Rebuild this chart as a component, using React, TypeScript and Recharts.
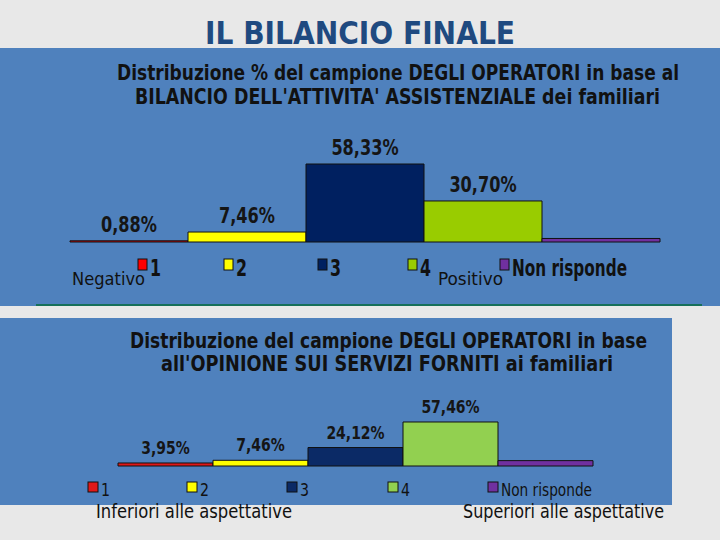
import React from 'react';
import { BarChart, Bar, XAxis, YAxis, Legend, LabelList } from 'recharts';

const categories = ['1', '2', '3', '4', 'Non risponde'];
const bilancioValues = [0.88, 7.46, 58.33, 30.7, 2.63];
const opinioneValues = [3.95, 7.46, 24.12, 57.46, 7.01];
const labeledCategories = ['1', '2', '3', '4'];
const bilancioColors = ['#ff0000', '#ffff00', '#002060', '#99cc00', '#7030a0'];
const opinioneColors = ['#e01818', '#ffff00', '#0b2a66', '#92d050', '#7030a0'];

const toRows = (vals: number[]) => {
  const r: Record<string, any> = { name: 'campione' };
  categories.forEach((c, i) => {
    r['s' + i] = vals[i];
  });
  return [r];
};

const bilancioData = toRows(bilancioValues);
const opinioneData = toRows(opinioneValues);

const FONT = "'DejaVu Sans Condensed', 'DejaVu Sans', sans-serif";
const BLUE = '#4f81bd';

const fmt = (v: number) => v.toFixed(2).replace('.', ',') + '%';

const makeLabel = (fontSize: number, gap: number, perChar: number) => (props: any) => {
  const { x, y, width, value } = props;
  const s = fmt(Number(value));
  return (
    <text
      x={Number(x) + Number(width) / 2}
      y={Number(y) - gap}
      textAnchor="middle"
      fontFamily={FONT}
      fontWeight="bold"
      fontSize={fontSize}
      fill="#151515"
      textLength={s.length * perChar}
      lengthAdjust="spacingAndGlyphs"
    >
      {s}
    </text>
  );
};

const makeLegend =
  (markerX: number[], mw: number, mh: number, my: number, ty: number, fs: number, bold: boolean, nrLen: number, digitLen: number) =>
  (props: any) => {
    const payload = props.payload || [];
    return (
      <svg width={720} height={40} style={{ display: 'block', overflow: 'visible' }}>
        {payload.map((p: any, i: number) => (
          <g key={i}>
            <rect x={markerX[i]} y={my} width={mw} height={mh} fill={p.color} stroke="#111" strokeWidth={1} />
            <text
              x={markerX[i] + mw + 3}
              y={ty}
              fontFamily={FONT}
              fontWeight={bold ? 'bold' : 'normal'}
              fontSize={fs}
              fill="#111"
              textLength={String(p.value).length > 3 ? nrLen : digitLen}
              lengthAdjust="spacingAndGlyphs"
            >
              {p.value}
            </text>
          </g>
        ))}
      </svg>
    );
  };

const topLegend = makeLegend([138, 224, 318, 408, 500], 9, 11, 9, 26, 23, true, 115, 11);
const bottomLegend = makeLegend([88, 187, 287, 388, 488], 10, 10, 7, 21, 18, false, 91, 9);

const T = (p: {
  x: number;
  y: number;
  len?: number;
  size: number;
  sy?: number;
  bold?: boolean;
  color?: string;
  anchor?: string;
  children: string;
}) => (
  <text
    transform={`translate(${p.x},${p.y}) scale(1,${p.sy || 1})`}
    x={0}
    y={0}
    fontFamily={FONT}
    fontWeight={p.bold ? 'bold' : 'normal'}
    fontSize={p.size}
    fill={p.color || '#111'}
    textAnchor={(p.anchor as any) || 'start'}
    {...(p.len ? { textLength: p.len, lengthAdjust: 'spacingAndGlyphs' } : {})}
  >
    {p.children}
  </text>
);

export default function App() {
  return (
    <div style={{ position: 'absolute', left: 0, top: 0, width: 720, height: 540, background: '#e8e8e8', overflow: 'hidden' }}>
      <div style={{ position: 'absolute', left: 0, top: 48, width: 720, height: 258, background: BLUE }} />
      <div style={{ position: 'absolute', left: 36, top: 304, width: 666, height: 2, background: '#16705a' }} />
      <div style={{ position: 'absolute', left: 0, top: 318, width: 672, height: 187, background: BLUE }} />

      <div style={{ position: 'absolute', left: 0, top: 0 }}>
        <BarChart
          width={720}
          height={300}
          data={bilancioData}
          margin={{ top: 108.3, right: 59, bottom: 58, left: 70 }}
          barCategoryGap={0}
          barGap={0}
        >
          <XAxis dataKey="name" hide />
          <YAxis hide domain={[0, 100]} />
          <Legend
            layout="horizontal"
            verticalAlign="middle"
            content={topLegend}
            wrapperStyle={{ left: 0, top: 250, width: 720, height: 40, bottom: 'auto' }}
          />
          {categories.map((c, i) => (
            <Bar key={c} dataKey={'s' + i} name={c} fill={bilancioColors[i]} stroke="#111" strokeWidth={1} isAnimationActive={false}>
              {labeledCategories.includes(c) && <LabelList dataKey={'s' + i} content={makeLabel(21, 9, 11.2)} />}
            </Bar>
          ))}
        </BarChart>
      </div>

      <div style={{ position: 'absolute', left: 0, top: 300 }}>
        <BarChart
          width={720}
          height={220}
          data={opinioneData}
          margin={{ top: 89.4, right: 125, bottom: 54, left: 118 }}
          barCategoryGap={0}
          barGap={0}
        >
          <XAxis dataKey="name" hide />
          <YAxis hide domain={[0, 100]} />
          <Legend
            layout="horizontal"
            verticalAlign="middle"
            content={bottomLegend}
            wrapperStyle={{ left: 0, top: 175, width: 720, height: 40, bottom: 'auto' }}
          />
          {categories.map((c, i) => (
            <Bar key={c} dataKey={'s' + i} name={c} fill={opinioneColors[i]} stroke="#111" strokeWidth={1} isAnimationActive={false}>
              {labeledCategories.includes(c) && <LabelList dataKey={'s' + i} content={makeLabel(18, 9, 9.7)} />}
            </Bar>
          ))}
        </BarChart>
      </div>

      <svg width={720} height={540} style={{ position: 'absolute', left: 0, top: 0, pointerEvents: 'none' }}>
        <T x={360} y={44} size={25} sy={1.28} bold color="#1f4a80" anchor="middle" len={310}>IL BILANCIO FINALE</T>
        <T x={117} y={80} size={16} sy={1.31} bold len={562}>Distribuzione % del campione DEGLI OPERATORI in base al</T>
        <T x={135} y={104} size={16} sy={1.31} bold len={525}>BILANCIO DELL'ATTIVITA' ASSISTENZIALE dei familiari</T>
        <T x={130} y={348} size={16} sy={1.31} bold len={517}>Distribuzione del campione DEGLI OPERATORI in base</T>
        <T x={161} y={371} size={16} sy={1.31} bold len={452}>all'OPINIONE SUI SERVIZI FORNITI ai familiari</T>
        <T x={72} y={285} size={17} len={73}>Negativo</T>
        <T x={438} y={285} size={17} len={65}>Positivo</T>
        <T x={96} y={518} size={19} len={196}>Inferiori alle aspettative</T>
        <T x={463} y={518} size={19} len={201}>Superiori alle aspettative</T>
      </svg>
    </div>
  );
}
